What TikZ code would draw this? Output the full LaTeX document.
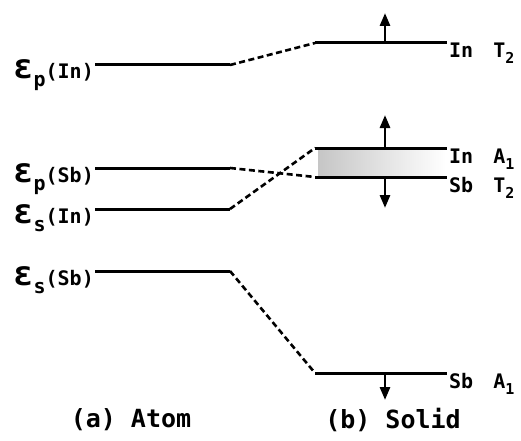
\documentclass[tikz,border=0pt]{standalone}
\usepackage{fontspec}
\usetikzlibrary{arrows.meta}
\newfontfamily\plotfont{DejaVu Sans Mono Bold}
\newcommand{\epsbig}{{\fontsize{34}{34}\selectfont ε}}
\newcommand{\lowsub}[1]{\raisebox{-8pt}{#1}}
\newcommand{\digsub}[1]{\raisebox{-6pt}{\fontsize{15}{15}\selectfont #1}}
\begin{document}
\begin{tikzpicture}[x=1pt,y=1pt,>={Triangle[length=13pt,width=10pt]},
  level/.style={line width=3pt},
  link/.style={line width=2.6pt,dash pattern=on 6pt off 3.5pt},
  shiftarrow/.style={line width=2.8pt,->},
  lab/.style={font=\plotfont\fontsize{20}{24}\selectfont,inner sep=0pt},
  caption/.style={font=\plotfont\fontsize{25}{30}\selectfont,inner sep=0pt}]
  \useasboundingbox (0,0) rectangle (521,440);
  % atom levels
  \coordinate (pIn-l) at (95,375);  \coordinate (pIn-r) at (230,375);
  \coordinate (pSb-l) at (95,272);  \coordinate (pSb-r) at (230,272);
  \coordinate (sIn-l) at (95,231);  \coordinate (sIn-r) at (230,231);
  \coordinate (sSb-l) at (95,169);  \coordinate (sSb-r) at (230,169);
  % solid levels
  \coordinate (T2In-l) at (315,397); \coordinate (T2In-r) at (447,397);
  \coordinate (A1In-l) at (315,292); \coordinate (A1In-r) at (447,292);
  \coordinate (T2Sb-l) at (315,263); \coordinate (T2Sb-r) at (447,263);
  \coordinate (A1Sb-l) at (315,67);  \coordinate (A1Sb-r) at (447,67);
  \coordinate (T2In-m) at (385,397); \coordinate (T2In-tip) at (385,427);
  \coordinate (A1In-m) at (385,292); \coordinate (A1In-tip) at (385,325);
  \coordinate (T2Sb-m) at (385,263); \coordinate (T2Sb-tip) at (385,232);
  \coordinate (A1Sb-m) at (385,67);  \coordinate (A1Sb-tip) at (385,40);
  % band between In A1 and Sb T2
  \shade[left color=gray!45,right color=white] (318,264) rectangle (446,291);
  \draw[level] (pIn-l) -- (pIn-r);
  \draw[level] (pSb-l) -- (pSb-r);
  \draw[level] (sIn-l) -- (sIn-r);
  \draw[level] (sSb-l) -- (sSb-r);
  \draw[level] (T2In-l) -- (T2In-r);
  \draw[level] (A1In-l) -- (A1In-r);
  \draw[level] (T2Sb-l) -- (T2Sb-r);
  \draw[level] (A1Sb-l) -- (A1Sb-r);
  \draw[link] (pIn-r) -- (T2In-l);
  \draw[link] (pSb-r) -- (T2Sb-l);
  \draw[link] (sIn-r) -- (A1In-l);
  \draw[link] (sSb-r) -- (A1Sb-l);
  \draw[shiftarrow] (T2In-m) -- (T2In-tip);
  \draw[shiftarrow] (A1In-m) -- (A1In-tip);
  \draw[shiftarrow] (T2Sb-m) -- (T2Sb-tip);
  \draw[shiftarrow] (A1Sb-m) -- (A1Sb-tip);
  % labels
  \node[lab,anchor=base east] (pInLab) at (94,361) {\epsbig\lowsub{p}(In)};
  \node[lab,anchor=base east] (pSbLab) at (94,258) {\epsbig\lowsub{p}(Sb)};
  \node[lab,anchor=base east] (sInLab) at (94,217) {\epsbig\lowsub{s}(In)};
  \node[lab,anchor=base east] (sSbLab) at (94,155) {\epsbig\lowsub{s}(Sb)};
  \node[lab,anchor=base west] (T2InLab) at (449,382) {In\quad T\digsub{2}};
  \node[lab,anchor=base west] (A1InLab) at (449,277) {In\quad A\digsub{1}};
  \node[lab,anchor=base west] (T2SbLab) at (449,248) {Sb\quad T\digsub{2}};
  \node[lab,anchor=base west] (A1SbLab) at (449,52) {Sb\quad A\digsub{1}};
  \node[caption] (atomCap) at (131,20) {(a) Atom};
  \node[caption] (solidCap) at (393,20) {(b) Solid};
\end{tikzpicture}
\end{document}
